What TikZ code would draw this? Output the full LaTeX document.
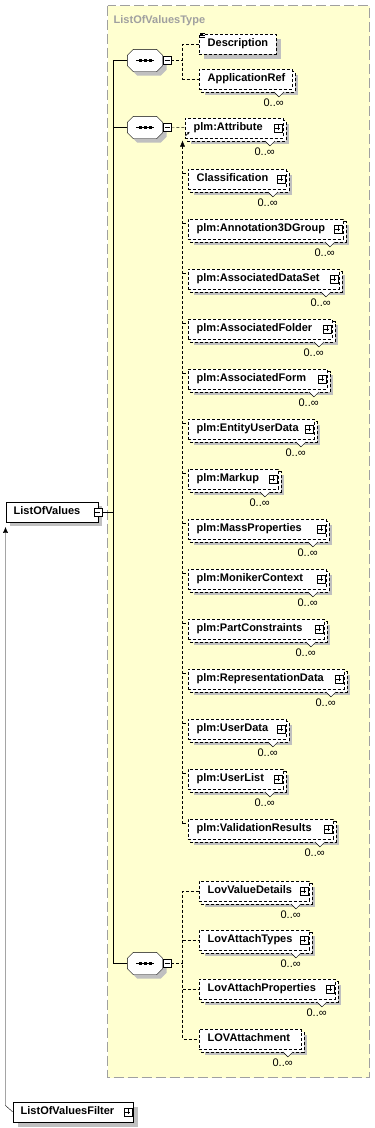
\documentclass[tikz,border=0pt]{standalone}
\usepackage{fontspec}
\setmainfont{Liberation Sans}
\usetikzlibrary{arrows.meta,calc}
\definecolor{yel}{HTML}{FFFFD0}
\definecolor{bordergrey}{HTML}{A0A0A0}
\definecolor{shadowgrey}{HTML}{C0C0C0}
\pgfdeclarelayer{back}\pgfdeclarelayer{bg}\pgfsetlayers{back,bg,main}
\tikzset{
  dsh/.style={dash pattern=on 3pt off 2pt},
  elfont/.style={font=\bfseries\fontsize{11}{13}\selectfont, text height=8pt, text depth=2.5pt},
  elbox/.style={draw, dsh, fill=white, inner sep=0pt, minimum height=20pt, anchor=north west, elfont},
  solidbox/.style={draw, solid, fill=white, inner sep=0pt, minimum height=20pt, anchor=north west, elfont},
  pmbox/.style={draw, solid, fill=white, inner sep=0pt, minimum size=8pt},
  plusbox/.style={pmbox, path picture={
     \draw[solid] ([xshift=-2.5pt]path picture bounding box.center) -- ([xshift=2.5pt]path picture bounding box.center);
     \draw[solid] ([yshift=-2.5pt]path picture bounding box.center) -- ([yshift=2.5pt]path picture bounding box.center);}},
  minusbox/.style={pmbox, path picture={
     \draw[solid] ([xshift=-2.5pt]path picture bounding box.center) -- ([xshift=2.5pt]path picture bounding box.center);}},
  mult/.style={font=\fontsize{11}{13}\selectfont, inner sep=0pt, anchor=east},
  seqn/.style={inner sep=0pt, minimum width=35pt, minimum height=22pt},
  titlestyle/.style={font=\bfseries\fontsize{11}{13}\selectfont, text=bordergrey, inner sep=0pt, anchor=base west},
  tipd/.style={-{Latex[length=6pt,width=5pt]}},
}
% multi element: name, left, top, right, text, plus(1/0)
\newcommand{\mel}[6]{%
  \node[elbox] (#1) at (#2,#3) {\makebox[\dimexpr#4pt-#2pt\relax][l]{\hspace*{9pt}#5}};
  \begin{pgfonlayer}{bg}
    \fill[shadowgrey] ([shift={(6,6)}]#1.north west) rectangle ([shift={(6,6)}]#1.south east);
    \draw[dsh, fill=white] ([shift={(3,3)}]#1.north west) rectangle ([shift={(3,3)}]#1.south east);
  \end{pgfonlayer}
  \ifnum#6=1 \node[plusbox] (#1p) at ([xshift=-5pt]#1.east) {};\fi
  \fill[white] ([shift={(-18,3)}]#1.south east) -- ([shift={(-13,8)}]#1.south east) -- ([shift={(-8,3)}]#1.south east) -- cycle;
  \draw[solid] ([shift={(-18,3)}]#1.south east) -- ([shift={(-13,8)}]#1.south east) -- ([shift={(-8,3)}]#1.south east);
  \node[mult] (#1m) at ([shift={(-8,14)}]#1.south east) {0..∞};
}
% sequence compositor: name, x, y, minus name
\newcommand{\seqcomp}[4]{%
  \node[seqn] (#1) at (#2,#3) {};
  \begin{pgfonlayer}{bg}
    \fill[shadowgrey] ([shift={(10,4)}]#1.north west) -- ([shift={(-2,4)}]#1.north east) -- ([shift={(4,10)}]#1.north east) -- ([shift={(4,-2)}]#1.south east) -- ([shift={(-2,4)}]#1.south east) -- ([shift={(10,4)}]#1.south west) -- ([shift={(4,-2)}]#1.south west) -- ([shift={(4,10)}]#1.north west) -- cycle;
  \end{pgfonlayer}
  \draw[solid, fill=white] ([shift={(6,0)}]#1.north west) -- ([shift={(-6,0)}]#1.north east) -- ([shift={(0,6)}]#1.north east) -- ([shift={(0,-6)}]#1.south east) -- ([shift={(-6,0)}]#1.south east) -- ([shift={(6,0)}]#1.south west) -- ([shift={(0,-6)}]#1.south west) -- ([shift={(0,6)}]#1.north west) -- cycle;
  \draw[solid] ([xshift=-9pt]#1.center) -- ([xshift=9pt]#1.center);
  \foreach \d in {-5,0,5} \fill ([shift={(\d-1.5,-1.5)}]#1.center) rectangle ([shift={(\d+1.5,1.5)}]#1.center);
  \node[minusbox] (#4) at ([xshift=4.5pt]#1.east) {};
}
\begin{document}
\begin{tikzpicture}[x=1pt,y=-1pt,line width=1pt,shift={(0.5,0.5)}]
\useasboundingbox (-0.5,-0.5) rectangle (374.5,1127.5);
\begin{pgfonlayer}{back}
  \fill[white] (-0.5,-0.5) rectangle (374.5,1127.5);
  \draw[fill=yel, draw=bordergrey, line width=1.5pt, dash pattern=on 10pt off 4pt] (107,5) rectangle (369,1077);
\end{pgfonlayer}
\node[titlestyle] (ttl) at (113,22.5) {ListOfValuesType};

% root
\node[solidbox] (lov) at (5,501) {\makebox[92pt][l]{\hspace*{8pt}ListOfValues}};
\begin{pgfonlayer}{bg}
  \fill[shadowgrey] ([shift={(4,4)}]lov.north west) rectangle ([shift={(4,4)}]lov.south east);
\end{pgfonlayer}
\node[minusbox] (lovm) at (lov.east) {};

\node[solidbox] (lvf) at (12,1101) {\makebox[120pt][l]{\hspace*{8pt}ListOfValuesFilter}};
\begin{pgfonlayer}{bg}
  \fill[shadowgrey] ([shift={(5,5)}]lvf.north west) rectangle ([shift={(5,5)}]lvf.south east);
\end{pgfonlayer}
\node[plusbox] (lvfp) at ([xshift=-5pt]lvf.east) {};

% compositors
\seqcomp{s1}{144.5}{60}{m1}
\seqcomp{s2}{144.5}{127}{m2}
\seqcomp{s3}{144.5}{963}{m3}

% group 1
\node[elbox] (desc) at (198,33) {\makebox[77pt][l]{\hspace*{9pt}Description}};
\begin{pgfonlayer}{bg}
  \fill[shadowgrey] ([shift={(5,5)}]desc.north west) rectangle ([shift={(5,5)}]desc.south east);
\end{pgfonlayer}
\foreach \k in {0,2,4} \draw[solid, line width=0.8pt] ([shift={(1.5,\k)}]desc.north west) -- ([shift={(6,\k)}]desc.north west);
\mel{appref}{198}{68}{291}{ApplicationRef}{0}

% group 2
\mel{attr}{184}{117}{282}{plm:Attribute}{1}
\mel{cls}{187}{168}{285}{Classification}{1}
\mel{a3d}{187}{218}{342}{plm:Annotation3DGroup}{1}
\mel{ads}{187}{268}{338}{plm:AssociatedDataSet}{1}
\mel{afo}{187}{318}{331}{plm:AssociatedFolder}{1}
\mel{afm}{187}{368}{326}{plm:AssociatedForm}{1}
\mel{eud}{187}{418}{313}{plm:EntityUserData}{1}
\mel{mku}{187}{468}{277}{plm:Markup}{1}
\mel{mas}{187}{518}{325}{plm:MassProperties}{1}
\mel{mon}{187}{568}{325}{plm:MonikerContext}{1}
\mel{pcs}{187}{618}{323}{plm:PartConstraints}{1}
\mel{rep}{187}{668}{343}{plm:RepresentationData}{1}
\mel{usd}{187}{718}{285}{plm:UserData}{1}
\mel{usl}{187}{768}{282}{plm:UserList}{1}
\mel{valres}{187}{818}{332}{plm:ValidationResults}{1}
\draw[solid, line width=0.8pt, -{Stealth[length=2.5pt,width=2.5pt]}] ([shift={(1,-2)}]attr.south west) -- ([shift={(5,-6)}]attr.south west);

% group 3
\mel{lvd}{198}{880}{308}{LovValueDetails}{1}
\mel{lat}{198}{929}{308}{LovAttachTypes}{1}
\mel{lap}{198}{978}{334}{LovAttachProperties}{1}
\mel{lova}{198}{1028}{300}{LOVAttachment}{0}

% connectors
\coordinate (spx) at (113,0);
\coordinate (bx) at (182,0);
\coordinate (subtop) at (182,140);
\coordinate (bend) at (5,1105);
\draw (lovm.east) -- (spx |- lovm.east);
\draw (s1.west) -| (spx |- lovm.east);
\draw (s3.west) -| (spx |- lovm.east);
\draw (s2.west) -- (spx |- s2.west);

\draw[dsh] (m1.east) -- (bx |- m1.east);
\draw[dsh] (desc.west) -| (bx |- appref.west) -- (appref.west);

\draw[dsh] (m2.east) -- (attr.west);
\draw[dsh, tipd] ([xshift=-5pt,yshift=-5pt]valres.north west) -- (subtop);
\foreach \e in {cls,a3d,ads,afo,afm,eud,mku,mas,mon,pcs,rep,usd,usl,valres}
  \draw[dsh] ([xshift=-5pt,yshift=-5pt]\e.north west) -- ([yshift=-5pt]\e.north west);

\draw[dsh] (m3.east) -- (bx |- m3.east);
\draw[dsh] (lvd.west) -| (bx |- lova.west) -- (lova.west);
\draw[dsh] (bx |- lat.west) -- (lat.west);
\draw[dsh] (bx |- lap.west) -- (lap.west);

\draw[tipd] (lvf.west) -- (bend) -- ([yshift=-5pt]lov.south west);
\end{tikzpicture}
\end{document}
